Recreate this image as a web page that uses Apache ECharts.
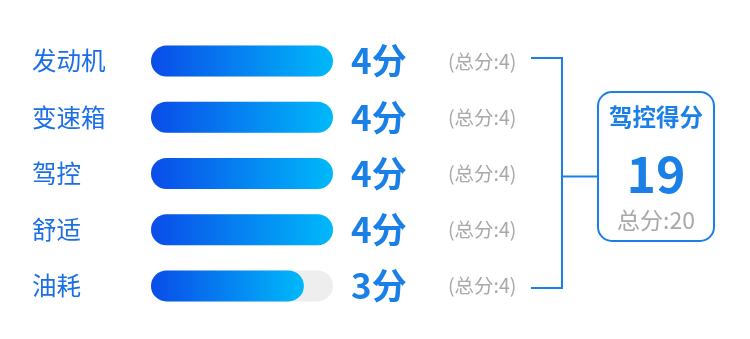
<!DOCTYPE html>
<html>
<head>
<meta charset="utf-8">
<script src="https://cdn.jsdelivr.net/npm/echarts@6/dist/echarts.min.js"></script>
<style>
html,body{margin:0;padding:0;background:#fff;}
#main{width:750px;height:339px;}
</style>
</head>
<body>
<div id="main"></div>
<script>
// ---- data ----
var categories = ['发动机', '变速箱', '驾控', '舒适', '油耗'];
var scores = [4, 4, 4, 4, 3];          // displayed scores
var maxScores = [4, 4, 4, 4, 4];       // per-item full marks
var fillValues = [4, 4, 4, 4, 3.36];   // bar fill lengths
var summaryTitle = '驾控得分';

var total = scores.reduce(function (a, b) { return a + b; }, 0);
var totalMax = maxScores.reduce(function (a, b) { return a + b; }, 0);

var FONT = '"Noto Sans CJK SC", "Noto Sans", sans-serif';
var BLUE = '#1a80e8';
var LABEL_BLUE = '#1a6ee6';
var GRAY = '#a8a8a8';

var chart = echarts.init(document.getElementById('main'));
chart.setOption({
  backgroundColor: '#ffffff',
  animation: false,
  grid: { left: 151, width: 182, top: 33, height: 281 },
  xAxis: { type: 'value', min: 0, max: 4, show: false },
  yAxis: [{
    type: 'category', data: categories, inverse: true,
    axisLine: { show: false }, axisTick: { show: false },
    axisLabel: { align: 'left', margin: 119, fontSize: 24.5, color: LABEL_BLUE, fontFamily: FONT }
  }, {
    type: 'category', data: maxScores.map(function (m) { return '(总分:' + m + ')'; }),
    inverse: true, position: 'right',
    axisLine: { show: false }, axisTick: { show: false },
    axisLabel: { align: 'left', margin: 115, fontSize: 19.5, color: GRAY, fontFamily: FONT }
  }],
  series: [{
    type: 'bar', yAxisIndex: 0, data: maxScores, barWidth: 31, barGap: '-100%',
    itemStyle: { color: '#eeeeee', borderRadius: 15.5 },
    label: {
      show: true, position: 'right', distance: 18,
      formatter: function (p) { return scores[p.dataIndex] + '分'; },
      fontSize: 35, fontWeight: 'bold', color: BLUE, fontFamily: FONT
    },
    silent: true
  }, {
    type: 'bar', yAxisIndex: 0, data: fillValues, barWidth: 31,
    itemStyle: {
      borderRadius: 15.5,
      color: new echarts.graphic.LinearGradient(0, 0, 1, 0, [
        { offset: 0, color: '#0a4ce8' },
        { offset: 1, color: '#00b9fa' }
      ], false)
    }
  }],
  graphic: [
    { type: 'polyline', shape: { points: [[531, 58], [562, 58], [562, 288], [531, 288]] },
      style: { stroke: BLUE, lineWidth: 2, fill: null } },
    { type: 'line', shape: { x1: 562, y1: 176.5, x2: 597, y2: 176.5 },
      style: { stroke: BLUE, lineWidth: 2 } },
    { type: 'rect', shape: { x: 598, y: 92, width: 116, height: 149, r: 14 },
      style: { stroke: BLUE, lineWidth: 2, fill: '#fff' } },
    { type: 'text', x: 656, y: 117, style: { text: summaryTitle, fontSize: 23.5, fontWeight: 'bold',
      fill: BLUE, fontFamily: FONT, align: 'center', verticalAlign: 'middle' } },
    { type: 'text', x: 656, y: 174, style: { text: String(total), fontSize: 50, fontWeight: 'bold',
      fill: BLUE, fontFamily: FONT, align: 'center', verticalAlign: 'middle' } },
    { type: 'text', x: 656, y: 220, style: { text: '总分:' + totalMax, fontSize: 23,
      fill: GRAY, fontFamily: FONT, align: 'center', verticalAlign: 'middle' } }
  ]
});
</script>
</body>
</html>
